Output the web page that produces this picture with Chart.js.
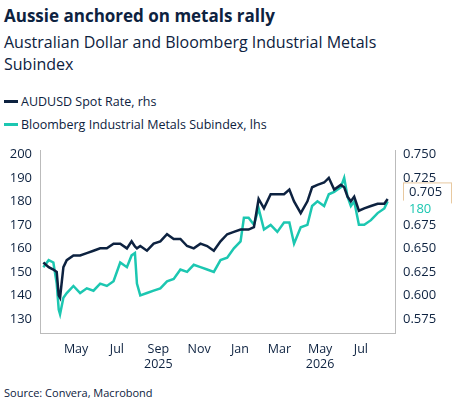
<!DOCTYPE html>
<html><head><meta charset="utf-8">
<script src="https://cdn.jsdelivr.net/npm/chart.js@4"></script>
<style>
body{margin:0;width:453px;height:415px;overflow:hidden;background:#fff;font-family:"Open Sans",sans-serif;color:#0d2240}
.t{position:absolute;left:4px;top:4px;font-size:17px;font-weight:bold}
.s{position:absolute;left:4px;top:31px;font-size:16px;line-height:22px;width:410px}
.l{position:absolute;left:4px;font-size:12.5px;display:flex;align-items:center}
.l i{display:inline-block;width:14px;height:3px;margin-right:3px}
.src{position:absolute;left:4px;top:385px;font-size:11px}
#w{position:absolute;left:0;top:140px;width:453px;height:245px}
</style></head><body>
<div class="t">Aussie anchored on metals rally</div>
<div class="s">Australian Dollar and Bloomberg Industrial Metals Subindex</div>
<div class="l" style="top:93px"><i style="background:#0d2240"></i>AUDUSD Spot Rate, rhs</div>
<div class="l" style="top:116px"><i style="background:#1cc7b1"></i>Bloomberg Industrial Metals Subindex, lhs</div>
<div class="src">Source: Convera, Macrobond</div>
<div id="w"><canvas id="c"></canvas></div>
<script>
const dates=["2025-03-13","2025-03-21","2025-03-28","2025-04-02","2025-04-05","2025-04-07","2025-04-12","2025-04-17","2025-04-27","2025-05-07","2025-05-17","2025-05-27","2025-06-06","2025-06-16","2025-06-26","2025-07-06","2025-07-16","2025-07-23","2025-07-28","2025-07-31","2025-08-05","2025-08-15","2025-08-25","2025-09-04","2025-09-14","2025-09-24","2025-10-04","2025-10-14","2025-10-24","2025-11-03","2025-11-13","2025-11-23","2025-12-03","2025-12-13","2025-12-23","2026-01-02","2026-01-07","2026-01-14","2026-01-22","2026-01-29","2026-02-06","2026-02-16","2026-02-26","2026-03-08","2026-03-16","2026-03-23","2026-04-02","2026-04-12","2026-04-19","2026-04-27","2026-05-07","2026-05-14","2026-05-22","2026-06-01","2026-06-06","2026-06-11","2026-06-16","2026-06-21","2026-06-28","2026-07-06","2026-07-16","2026-07-26","2026-08-05","2026-08-10"];
const metals=[152,155,154,145,134,132,139,141,144,141,143,142,145,144,146,154,152,157,158,145,140,141,142,143,146,147,151,150,153,152,151,150,155,156,160,163,173,173,170,177,168,170,167,171,171,162,169,170,178,180,178,183,184,186,190,182,178,180,170,170,172,175,177,180];
const audusd=[.635,.630,.6275,.625,.600,.5975,.630,.6375,.6425,.6425,.645,.6475,.650,.650,.655,.655,.650,.6575,.652,.650,.6525,.6475,.655,.6575,.665,.660,.660,.6525,.650,.655,.6525,.6475,.6575,.665,.6675,.670,.670,.670,.6725,.7025,.6925,.7075,.7075,.7075,.7125,.700,.6875,.700,.715,.7175,.720,.725,.7125,.7175,.715,.705,.700,.705,.690,.6925,.695,.6975,.6975,.7025];
const leftTicks=[130,140,150,160,170,180,190,200];
const rightTicks=[0.575,0.600,0.625,0.650,0.675,0.700,0.725,0.750];
const monthTicks=["2025-05-01","2025-07-01","2025-09-01","2025-11-01","2026-01-01","2026-03-01","2026-05-01","2026-07-01"];
const monthLabels=[["May"],["Jul"],["Sep","2025"],["Nov"],["Jan"],["Mar"],["May","2026"],["Jul"]];
const D=s=>Date.parse(s)/864e5;
const navy="#0d2240",teal="#1cc7b1",grey="#bbbbbb";
const ptsM=dates.map((d,i)=>({x:D(d),y:metals[i]}));
const ptsA=dates.map((d,i)=>({x:D(d),y:audusd[i]}));
const labels={id:'lbl',afterDraw(ch){const c=ch.ctx,r=ch.chartArea.right;c.save();c.font='13px "Open Sans"';
c.fillStyle='#fff';c.fillRect(r+8,ch.scales.y1.getPixelForValue(0.7095)-9,48,20);
c.strokeStyle='#e8c9a0';c.lineWidth=1;c.strokeRect(r+8.5,ch.scales.y1.getPixelForValue(0.7095)-9.5,48,20);
c.fillStyle=navy;c.textBaseline='middle';c.fillText('0.705',r+14,ch.scales.y1.getPixelForValue(0.7095));
c.fillStyle='#fff';c.fillRect(r+8,ch.scales.y.getPixelForValue(176.5)-9,48,18);
c.fillStyle=teal;c.fillText('180',r+14,ch.scales.y.getPixelForValue(176.5));c.restore();}};
new Chart(document.getElementById('c'),{type:'line',
data:{datasets:[
{data:ptsA,yAxisID:'y1',borderColor:navy,borderWidth:2.5,pointRadius:0,tension:0},
{data:ptsM,yAxisID:'y',borderColor:teal,borderWidth:2.5,pointRadius:0,tension:0}]},
plugins:[labels],
options:{responsive:true,maintainAspectRatio:false,animation:false,
layout:{padding:{top:5,bottom:0,left:0,right:0}},
plugins:{legend:{display:false},tooltip:{enabled:false}},
scales:{
x:{type:'linear',min:D("2025-03-08"),max:D("2026-08-21"),
afterBuildTicks(a){a.ticks=monthTicks.map(m=>({value:D(m)}));},
afterFit(a){a.height=52;},
ticks:{autoSkip:false,maxRotation:0,color:navy,font:{size:12.5,family:"Open Sans"},padding:4,
callback(v,i){return monthLabels[i];}},
grid:{display:false,drawTicks:true,tickLength:5,tickColor:grey},border:{color:grey}},
y:{position:'left',min:124,max:201.5,
afterBuildTicks(a){a.ticks=leftTicks.map(v=>({value:v}));},
afterFit(a){a.width=40;},
ticks:{color:navy,font:{size:13,family:"Open Sans"},padding:3},
grid:{display:false,drawTicks:true,tickLength:5,tickColor:grey},border:{color:grey}},
y1:{position:'right',min:0.56,max:0.75375,
afterBuildTicks(a){a.ticks=rightTicks.map(v=>({value:v}));},
afterFit(a){a.width=58;},
ticks:{color:navy,font:{size:13,family:"Open Sans"},padding:3,callback:v=>v.toFixed(3)},
grid:{display:false,drawTicks:true,tickLength:5,tickColor:grey},border:{color:grey}}}}});
</script></body></html>
